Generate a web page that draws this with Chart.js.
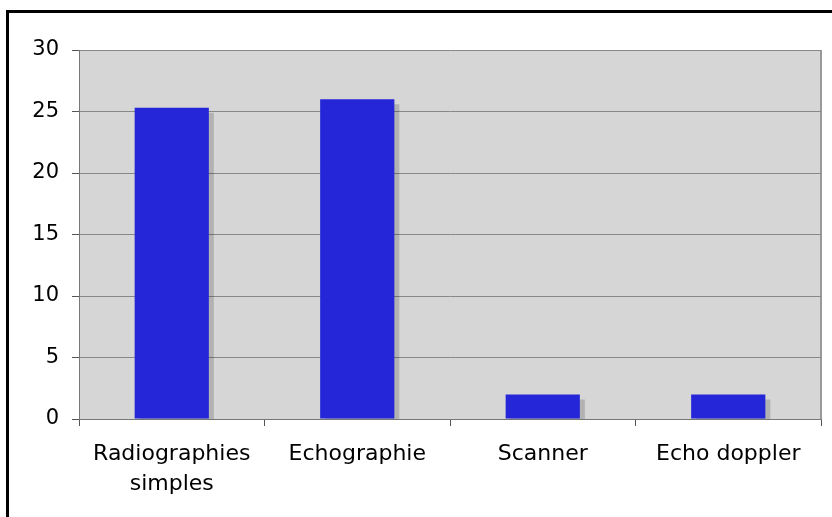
<!DOCTYPE html>
<html>
<head>
<meta charset="utf-8">
<script src="https://cdn.jsdelivr.net/npm/chart.js@4/dist/chart.umd.min.js"></script>
<style>
  html, body { margin: 0; padding: 0; background: #fff; overflow: hidden; }
  #frame { position: absolute; left: 6px; top: 10px; width: 900px; height: 600px; border: 3px solid #000; }
  #wrap { position: absolute; left: 0; top: 0; width: 832px; height: 517px; }
</style>
</head>
<body>
<div id="frame"></div>
<div id="wrap"><canvas id="examChart" width="832" height="517"></canvas></div>
<script>
const categories = [['Radiographies', 'simples'], 'Echographie', 'Scanner', 'Echo doppler'];
const counts = [25.3, 26, 2, 2];
const yTicks = [0, 5, 10, 15, 20, 25, 30];

const ctx = document.getElementById('examChart').getContext('2d');

// grey plot background + border, and the drop shadow behind bars
const plotBox = {
  id: 'plotBox',
  beforeDraw(chart) {
    const a = chart.chartArea;
    const c = chart.ctx;
    c.save();
    c.fillStyle = '#d6d6d6';
    c.fillRect(a.left, a.top, a.right - a.left, a.bottom - a.top);
    c.strokeStyle = '#999';
    c.lineWidth = 2;
    c.beginPath();
    c.moveTo(a.right, a.top);
    c.lineTo(a.right, a.bottom);
    c.stroke();
    c.restore();
  },
  beforeDatasetsDraw(chart) {
    const c = chart.ctx;
    c.save();
    c.shadowColor = 'rgba(0,0,0,0.17)';
    c.shadowOffsetX = 5;
    c.shadowOffsetY = 5;
    c.shadowBlur = 0;
  },
  afterDatasetsDraw(chart) {
    chart.ctx.restore();
  }
};

new Chart(ctx, {
  type: 'bar',
  data: {
    labels: categories,
    datasets: [{
      data: counts,
      backgroundColor: '#2426d8',
      borderWidth: 0,
      barPercentage: 0.4,
      categoryPercentage: 1
    }]
  },
  plugins: [plotBox],
  options: {
    responsive: false,
    animation: false,
    layout: { padding: { left: 0, top: 50, right: 11, bottom: 0 } },
    plugins: { legend: { display: false }, tooltip: { enabled: false } },
    scales: {
      x: {
        afterFit(scale) { scale.height = 98; },
        grid: { drawOnChartArea: false, drawTicks: true, tickLength: 7, color: '#555' },
        border: { color: '#777', width: 1 },
        ticks: {
          color: '#000',
          padding: 13,
          maxRotation: 0,
          font: { family: 'DejaVu Sans', size: 22, lineHeight: 1.37 }
        }
      },
      y: {
        min: 0,
        max: 30,
        afterFit(scale) { scale.width = 79; },
        afterBuildTicks(scale) { scale.ticks = yTicks.map(v => ({ value: v })); },
        grid: { color: '#888', tickLength: 7, tickColor: '#555' },
        border: { color: '#777', width: 1 },
        ticks: {
          color: '#000',
          padding: 13,
          font: { family: 'DejaVu Sans', size: 21 }
        }
      }
    }
  }
});
</script>
</body>
</html>
